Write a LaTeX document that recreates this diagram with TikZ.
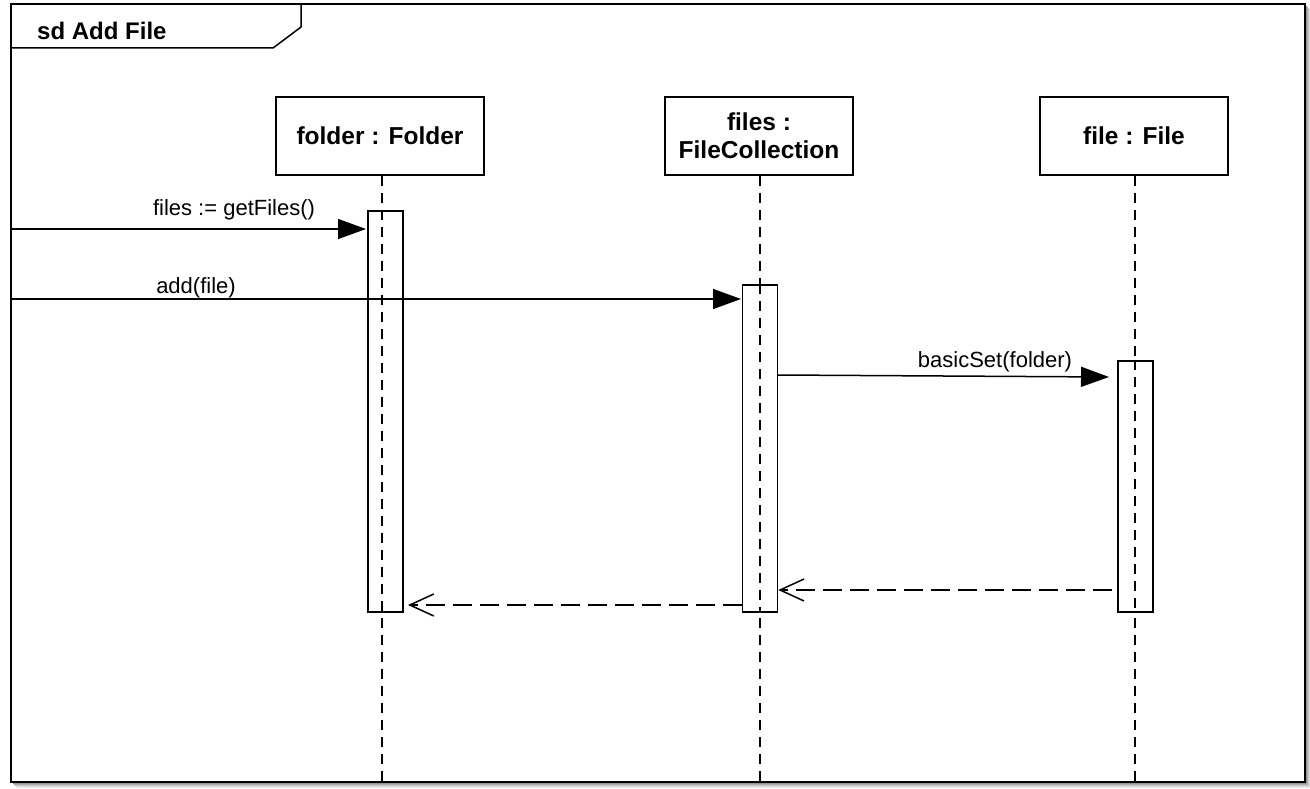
\documentclass[tikz,border=0pt]{standalone}
\usepackage{fontspec}
\setmainfont{Liberation Sans}
\usetikzlibrary{arrows.meta}
\begin{document}
\begin{tikzpicture}[x=1pt,y=-1pt,
  headbox/.style={draw,line width=1.5pt,fill=white,minimum width=188pt,minimum height=78pt,
    align=center,inner sep=0pt,font=\fontsize{24.5}{28}\selectfont\bfseries},
  actbox/.style={draw,line width=1.5pt,fill=white,minimum width=35pt,inner sep=0pt},
  lifeline/.style={line width=1.5pt,dash pattern=on 10pt off 7pt},
  callmsg/.style={line width=1.5pt,-{Triangle[length=28pt,width=20pt]}},
  retmsg/.style={line width=1.5pt,dash pattern=on 19pt off 8pt,-{Straight Barb[length=24pt,width=22pt,line width=1.5pt]}},
  msglabel/.style={anchor=base,inner sep=0pt,font=\fontsize{22}{26}\selectfont}]
\useasboundingbox (0,0) rectangle (1310,789);
% soft drop shadow of the frame
\foreach \o/\g in {6/8,5/14,4/22,3/32,2/42}
  \fill[black!\g] (11+\o,4+\o) rectangle (1305+\o,782+\o);
\fill[white] (11,4) rectangle (1305,782);

% lifeline heads
\node[headbox,minimum width=208pt] (folder) at (380,136) {folder : Folder};
\node[headbox] (files) at (759,136) {files :\\FileCollection};
\node[headbox] (file) at (1134,136) {file : File};

% lifeline ends at the frame bottom
\coordinate (folderEnd) at (382,782);
\coordinate (filesEnd) at (760,782);
\coordinate (fileEnd) at (1135,782);
\draw[lifeline] (folder.south -| folderEnd) -- (folderEnd);
\draw[lifeline] (files.south -| filesEnd) -- (filesEnd);
\draw[lifeline] (file.south -| fileEnd) -- (fileEnd);

% activation bars
\node[actbox,minimum height=401pt] (actFolder) at (385.5,411.5) {};
\node[actbox,minimum height=327pt] (actFiles) at (760,448.5) {};
\node[actbox,minimum height=251pt] (actFile) at (1135.5,486.5) {};
% dashed lifelines show through the bars
\draw[lifeline] (folderEnd |- actFolder.north) -- (folderEnd |- actFolder.south);
\draw[lifeline] (filesEnd |- actFiles.north) -- (filesEnd |- actFiles.south);
\draw[lifeline] (fileEnd |- actFile.north) -- (fileEnd |- actFile.south);

% messages
\coordinate (gate1) at (11,229);
\coordinate (tip1) at (366,229);
\draw[callmsg] (gate1) -- (tip1);
\node[msglabel] (lab1) at (234,215) {files := getFiles()};

\coordinate (gate2) at (11,299);
\coordinate (tip2) at (741,299);
\draw[callmsg] (gate2) -- (tip2);
\node[msglabel] (lab2) at (196,293) {add(file)};

\coordinate (src3) at (778,375);
\coordinate (tip3) at (1109,377);
\draw[callmsg] (src3) -- (tip3);
\node[msglabel] (lab3) at (995,367) {basicSet(folder)};

% replies
\coordinate (src4) at (1112,590);
\draw[retmsg] (src4) -- (actFiles.east |- src4);
\coordinate (src5) at (742,605);
\coordinate (tip5) at (408,605);
\draw[retmsg] (src5) -- (tip5);

% frame with its name tab
\draw[line width=2pt] (11,4) rectangle (1305,782);
\draw[line width=1.5pt] (11,48) -- (273,48) -- (301,27) -- (301,4);
\node[anchor=base west,inner sep=0pt,font=\fontsize{24}{28}\selectfont\bfseries] (title) at (37,40) {sd Add File};
\end{tikzpicture}
\end{document}
